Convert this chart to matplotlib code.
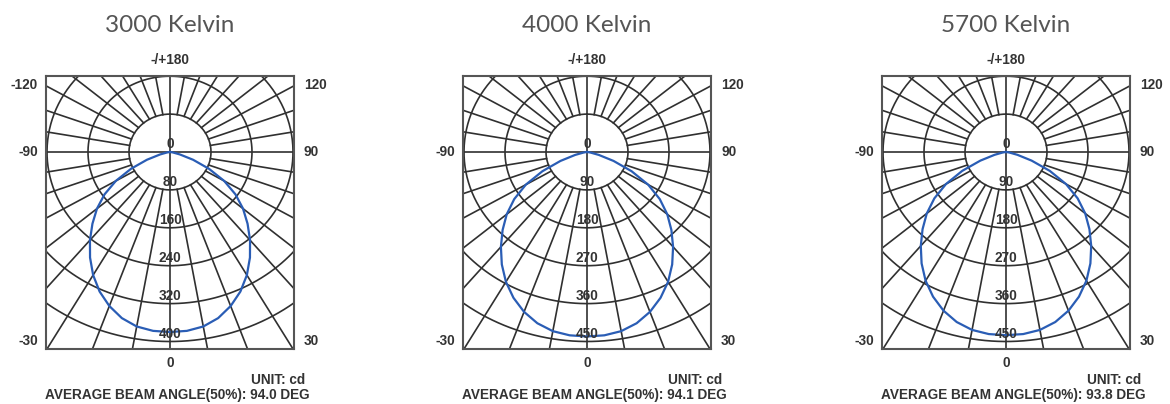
import numpy as np
import matplotlib.pyplot as plt

# --- data ---
titles = ["3000 Kelvin", "4000 Kelvin", "5700 Kelvin"]
ring_steps = [80, 90, 90]            # cd per ring
beam_angles = ["94.0", "94.1", "93.8"]
gamma = np.arange(0, 95, 5)          # degrees from nadir
cd_3000 = [380, 379, 374, 363, 346, 325, 300, 272, 243, 214, 186, 156, 122, 84, 48, 20, 6, 1, 0]
cd_4000 = [438, 437, 432, 421, 404, 382, 356, 326, 294, 262, 230, 195, 155, 108, 62, 27, 8, 2, 0]
cd_5700 = [435, 434, 429, 418, 401, 379, 353, 323, 291, 259, 227, 192, 152, 106, 60, 26, 8, 2, 0]
curves = [cd_3000, cd_4000, cd_5700]
left_top_labels = ["-120", "", ""]

# --- layout (pixels) ---
W, H = 1170, 404
centers = [170, 587, 1006]
cy = 152
sx, sy = 41.0, 37.9          # pixels per ring, horizontal / vertical
half_w = 124
top, bottom = 76, 349

grid_col = "#303030"
text_col = "#333333"
font = dict(family="Liberation Sans", fontsize=9.8, fontweight="bold", color=text_col)

fig = plt.figure(figsize=(W / 100, H / 100), dpi=100)
fig.patch.set_facecolor("white")


def fx(x):
    return x / W


def fy(y):
    return 1 - y / H


for i in range(3):
    cx = centers[i]
    ax = fig.add_axes([fx(cx - half_w), fy(bottom), 2 * half_w / W, (bottom - top) / H])
    ax.set_xlim(-half_w / sx, half_w / sx)
    ax.set_ylim(-(bottom - cy) / sy, (cy - top) / sy)
    ax.set_xticks([])
    ax.set_yticks([])
    for sp in ax.spines.values():
        sp.set_color("#555555")
        sp.set_linewidth(1.5)

    # rings
    t = np.linspace(0, 2 * np.pi, 400)
    for k in range(1, 8):
        ax.plot(k * np.sin(t), k * np.cos(t), color=grid_col, lw=1.2, zorder=1)
    # radial lines every 10 deg, outside the inner ring
    for a in range(0, 360, 10):
        if a % 90 == 0:
            continue
        r = np.radians(a)
        ax.plot([np.sin(r), 9 * np.sin(r)], [np.cos(r), 9 * np.cos(r)],
                color=grid_col, lw=1.2, zorder=1)
    ax.axhline(0, color=grid_col, lw=1.2, zorder=1)
    ax.axvline(0, color=grid_col, lw=1.2, zorder=1)

    # intensity curve (symmetric)
    g = np.radians(np.concatenate([-gamma[::-1], gamma[1:]]))
    v = np.array(curves[i], dtype=float)
    v = np.concatenate([v[::-1], v[1:]]) / ring_steps[i]
    ax.plot(v * np.sin(g), -v * np.cos(g), color="#2a5db5", lw=1.6, zorder=3)

    # ring labels
    for k in range(6):
        ax.text(0, -k + 0.02, str(k * ring_steps[i]), ha="center", va="bottom",
                zorder=4, **font)

    # texts around the box
    fig.text(fx(cx), fy(25), titles[i], ha="center", va="center",
             fontsize=17.5, color="#555555", family="Lato")
    fig.text(fx(cx), fy(60), "-/+180", ha="center", va="center", **font)
    if left_top_labels[i]:
        fig.text(fx(cx - half_w - 8), fy(85), left_top_labels[i], ha="right", va="center", **font)
    fig.text(fx(cx + half_w + 10), fy(85), "120", ha="left", va="center", **font)
    fig.text(fx(cx - half_w - 8), fy(cy), "-90", ha="right", va="center", **font)
    fig.text(fx(cx + half_w + 10), fy(cy), "90", ha="left", va="center", **font)
    fig.text(fx(cx - half_w - 8), fy(341), "-30", ha="right", va="center", **font)
    fig.text(fx(cx + half_w + 10), fy(341), "30", ha="left", va="center", **font)
    fig.text(fx(cx), fy(363), "0", ha="center", va="center", **font)
    fig.text(fx(cx + 135), fy(380), "UNIT: cd", ha="right", va="center", **font)
    fig.text(fx(cx + 140), fy(395), "AVERAGE BEAM ANGLE(50%): " + beam_angles[i] + " DEG",
             ha="right", va="center", **font)

fig.savefig("out.png", dpi=100)
